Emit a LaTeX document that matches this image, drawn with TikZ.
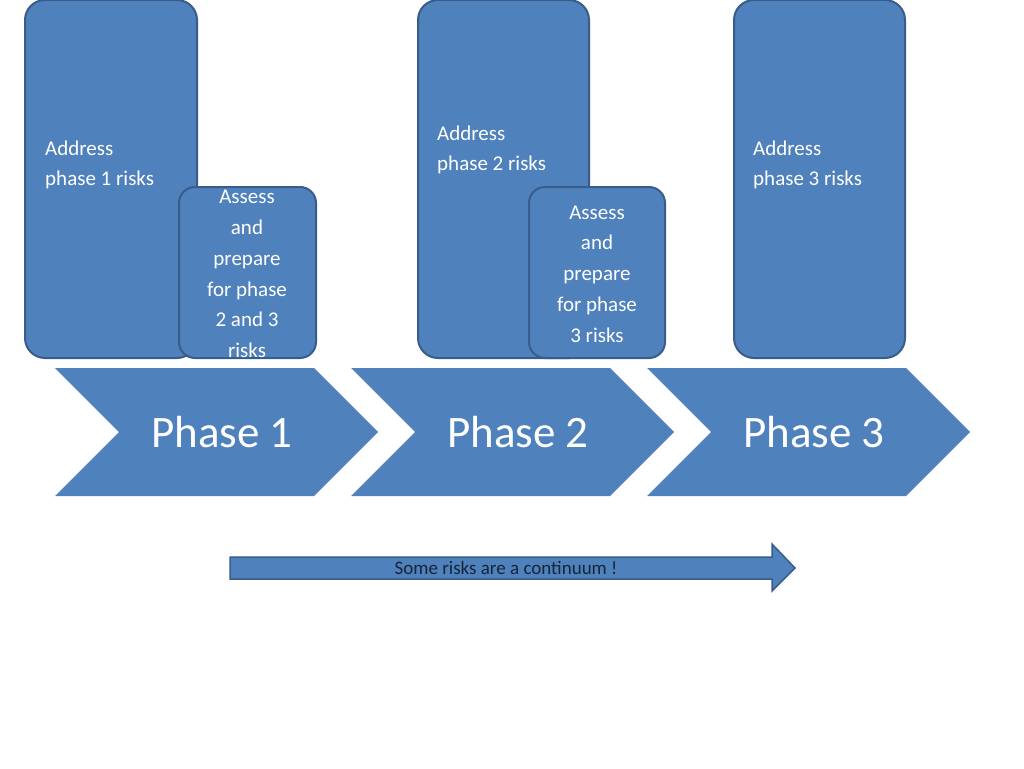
\documentclass[tikz,border=0pt]{standalone}
\usepackage{fontspec}
\setmainfont{Carlito}
\usetikzlibrary{positioning,calc}
\definecolor{boxfill}{HTML}{4F81BD}
\definecolor{boxline}{HTML}{385D8A}
\tikzset{
    tallbox/.style = {
        draw=boxline,
        fill=boxfill,
        line width=2pt,
        rounded corners=20pt
    },
    smallbox/.style = {
        draw=boxline,
        fill=boxfill,
        line width=2pt,
        rounded corners=16pt
    },
    chevron/.style = {
        fill=boxfill,
        draw=none
    },
    boxtext/.style = {
        text=white,
        font=\fontsize{21}{30.7}\selectfont,
        inner sep=0pt
    },
    phasetext/.style = {
        text=white,
        font=\fontsize{45}{50}\selectfont,
        inner sep=0pt
    },
}
\begin{document}
\begin{tikzpicture}[x=1pt,y=-1pt]
    \useasboundingbox (0,0) rectangle (1024,768);

    % risk boxes
    \draw[tallbox] (25,0) rectangle (197,358);
    \draw[smallbox] (179,187) rectangle (316,358);
    \draw[tallbox] (418,0) rectangle (589,358);
    \draw[smallbox] (529,187) rectangle (665,358);
    \draw[tallbox] (734,0) rectangle (905,358);

    \node[boxtext, align=left, anchor=west] (addr1) at (45,165) {Address\\phase 1 risks};
    \node[boxtext, align=left, anchor=west] (addr2) at (437,150) {Address\\phase 2 risks};
    \node[boxtext, align=left, anchor=west] (addr3) at (753,165) {Address\\phase 3 risks};
    \node[boxtext, align=center] (prep1) at (247,274) {Assess\\and\\prepare\\for phase\\2 and 3\\risks};
    \node[boxtext, align=center] (prep2) at (597,274) {Assess\\and\\prepare\\for phase\\3 risks};

    % phases
    \foreach \x/\n in {55/1, 351/2, 647/3} {
        \fill[chevron] (\x,368) -- ++(259,0) -- ++(64,64) -- ++(-64,64)
            -- ++(-259,0) -- ++(64,-64) -- cycle;
        \node[phasetext] (phase\n) at (\x+167,432) {Phase \n};
    }

    % continuum arrow
    \draw[fill=boxfill, draw=boxline, line width=1.5pt]
        (230,557) -- (772,557) -- (772,544) -- (795,568) -- (772,591)
        -- (772,579) -- (230,579) -- cycle;
    \node[text=boxline!40!black, font=\fontsize{19}{22}\selectfont, inner sep=0pt] (cont) at (506,568) {Some risks are a continuum !};
\end{tikzpicture}
\end{document}
